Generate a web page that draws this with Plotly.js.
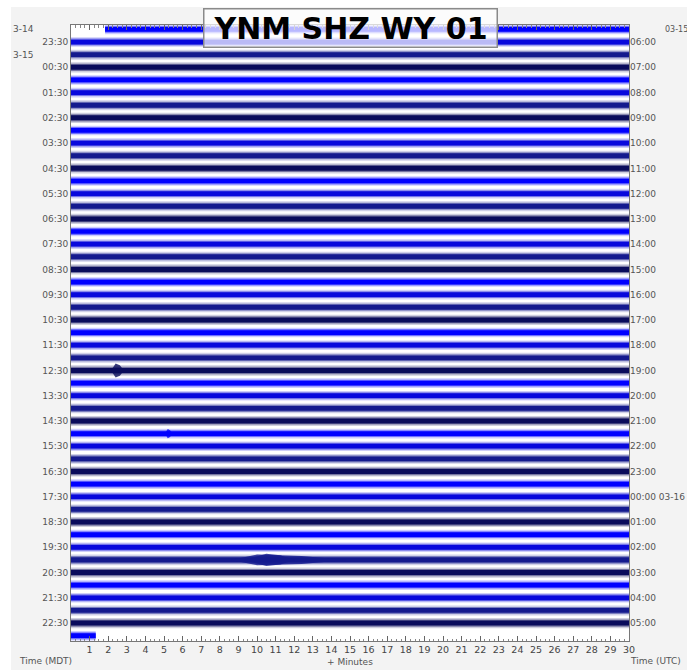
<!DOCTYPE html>
<html><head><meta charset="utf-8">
<script src="https://cdn.plot.ly/plotly-3.0.1.min.js"></script>
<style>
html,body{margin:0;padding:0;background:#ffffff;}
#chart{position:absolute;left:11px;top:7px;width:676px;height:663px;}
</style>
</head><body><div id="chart"></div>
<script>
const minuteTicks = [1,2,3,4,5,6,7,8,9,10,11,12,13,14,15,16,17,18,19,20,21,22,23,24,25,26,27,28,29,30];
const mdtLabels = ['23:30','00:30','01:30','02:30','03:30','04:30','05:30','06:30','07:30','08:30','09:30','10:30',
  '11:30','12:30','13:30','14:30','15:30','16:30','17:30','18:30','19:30','20:30','21:30','22:30'];
const utcLabels = ['06:00','07:00','08:00','09:00','10:00','11:00','12:00','13:00','14:00','15:00','16:00','17:00',
  '18:00','19:00','20:00','21:00','22:00','23:00','00:00 03-16','01:00','02:00','03:00','04:00','05:00'];
const labelRows = [1,3,5,7,9,11,13,15,17,19,21,23,25,27,29,31,33,35,37,39,41,43,45,47];
const rowIndex = [0,1,2,3,4,5,6,7,8,9,10,11,12,13,14,15,16,17,18,19,20,21,22,23,24,25,26,27,28,29,30,31,32,33,34,35,36,37,38,39,40,41,42,43,44,45,46,47,48];
// minute where the trace starts / ends in each row (first row starts late, last row is the live partial row)
const rowStartMin = [1.83,0,0,0,0,0,0,0,0,0,0,0,0,0,0,0,0,0,0,0,0,0,0,0,0,0,0,0,0,0,0,0,0,0,0,0,0,0,0,0,0,0,0,0,0,0,0,0,0];
const rowEndMin   = [30,30,30,30,30,30,30,30,30,30,30,30,30,30,30,30,30,30,30,30,30,30,30,30,30,30,30,30,30,30,30,30,30,30,30,30,30,30,30,30,30,30,30,30,30,30,30,30,1.33];
// background noise half-amplitude of each row (in row spacings)
const rowNoise = [0.34,0.34,0.35,0.36,0.34,0.34,0.35,0.36,0.34,0.34,0.35,0.36,0.34,0.34,0.35,0.36,0.34,0.34,0.35,0.36,
  0.34,0.34,0.35,0.36,0.34,0.34,0.35,0.37,0.34,0.34,0.35,0.36,0.34,0.34,0.35,0.36,0.34,0.34,0.35,0.36,
  0.34,0.34,0.38,0.36,0.34,0.34,0.35,0.36,0.34];
// events: row, onset minute, peak minute, end minute, half-amplitude (row spacings)
const eventRow   = [27,   32,   42,   42];
const eventStart = [2.15, 5.05, 8.6,  9.3];
const eventPeak  = [2.4,  5.2,  10.0, 10.5];
const eventEnd   = [2.85, 5.45, 14.8, 12.0];
const eventAmp   = [0.55, 0.36, 0.42, 0.48];

// ---- styling ----
const rowColors = ['#0000ff','#0808dc','#141a8e','#0a0c5c'];
function rgba(hex,a){const n=parseInt(hex.slice(1),16);return `rgba(${n>>16},${(n>>8)&255},${n&255},${a})`;}

const traces = [];
const layers = [{k:1.12,a:0.2},{k:0.8,a:0.45},{k:0.55,a:1.0}];
for (let c=0;c<4;c++){
  layers.forEach(L=>{
    const xs=[], ys=[];
    rowIndex.forEach((r,i)=>{
      if (r%4!==c) return;
      const h=rowNoise[i]*L.k, s=rowStartMin[i], e=rowEndMin[i];
      xs.push(s,e,e,s,s,null); ys.push(r-h,r-h,r+h,r+h,r-h,null);
    });
    traces.push({type:'scatter',mode:'lines',x:xs,y:ys,fill:'toself',fillcolor:rgba(rowColors[c],L.a),
      line:{width:0},hoverinfo:'skip',showlegend:false});
  });
}
eventRow.forEach((r,i)=>{
  const a=eventAmp[i], s=eventStart[i], p=eventPeak[i], e=eventEnd[i], q=(p+e)/2;
  traces.push({type:'scatter',mode:'lines',
    x:[s,p,q,e,q,p,s],
    y:[r,r-a,r-a*0.75,r,r+a*0.75,r+a,r],fill:'toself',fillcolor:rgba(rowColors[r%4],0.8),
    line:{width:0},hoverinfo:'skip',showlegend:false});
});
traces.push({type:'scatter',mode:'markers',x:[0],y:[0],yaxis:'y2',marker:{opacity:0},hoverinfo:'skip',showlegend:false});

const font = {family:'DejaVu Sans, sans-serif',size:9,color:'#555555'};
const yr = [48.42,-0.35];
const layout = {
  width:676,height:663,
  margin:{l:60,r:58,t:18,b:29},
  paper_bgcolor:'#f3f3f3',plot_bgcolor:'#ffffff',
  showlegend:false,
  xaxis:{range:[0,30],tickmode:'array',tickvals:minuteTicks,ticktext:minuteTicks.map(String),
    ticks:'inside',ticklen:5,tickcolor:'#666',tickwidth:1,showline:true,linecolor:'#777',linewidth:1,mirror:'ticks',
    showgrid:false,zeroline:false,tickfont:{family:'DejaVu Sans, sans-serif',size:9.5,color:'#444'},
    minor:{tickmode:'linear',tick0:0,dtick:0.25,ticks:'inside',ticklen:2.5,tickcolor:'#888',showgrid:false},
    fixedrange:true},
  yaxis:{range:yr,tickmode:'array',tickvals:labelRows,ticktext:mdtLabels,ticks:'',showline:true,linecolor:'#777',
    linewidth:1,mirror:true,showgrid:false,zeroline:false,tickfont:font,fixedrange:true},
  yaxis2:{range:yr,overlaying:'y',side:'right',tickmode:'array',tickvals:labelRows,ticktext:utcLabels,ticks:'',
    showgrid:false,zeroline:false,showline:false,tickfont:font,fixedrange:true},
  annotations:[
    {text:'<b>YNM SHZ WY 01</b>',xref:'paper',yref:'paper',x:0.5,y:1,xanchor:'center',yanchor:'middle',yshift:-3,
     width:288,height:33,
     showarrow:false,font:{family:'DejaVu Sans, sans-serif',size:30,color:'#000'},
     bgcolor:'rgba(255,255,255,0.72)',bordercolor:'#8a8a8a',borderwidth:1.5,borderpad:2},
    {text:'3-14',xref:'paper',yref:'y',x:0,y:0,xanchor:'left',yanchor:'middle',xshift:-60,showarrow:false,font:font},
    {text:'3-15',xref:'paper',yref:'y',x:0,y:2,xanchor:'left',yanchor:'middle',xshift:-60,showarrow:false,font:font},
    {text:'03-15',xref:'paper',yref:'y',x:1,y:0,xanchor:'left',yanchor:'middle',xshift:34,showarrow:false,
     font:{family:'DejaVu Sans, sans-serif',size:8,color:'#555555'}},
    {text:'Time (MDT)',xref:'paper',yref:'paper',x:0,y:0,xanchor:'left',yanchor:'middle',xshift:-54,yshift:-20,showarrow:false,font:font},
    {text:'+ Minutes',xref:'paper',yref:'paper',x:0.5,y:0,xanchor:'center',yanchor:'middle',yshift:-21,showarrow:false,font:font},
    {text:'Time (UTC)',xref:'paper',yref:'paper',x:1,y:0,xanchor:'left',yanchor:'middle',xshift:-1,yshift:-20,showarrow:false,font:font}
  ]
};
Plotly.newPlot('chart',traces,layout,{displayModeBar:false,staticPlot:true});
</script>
</body></html>
